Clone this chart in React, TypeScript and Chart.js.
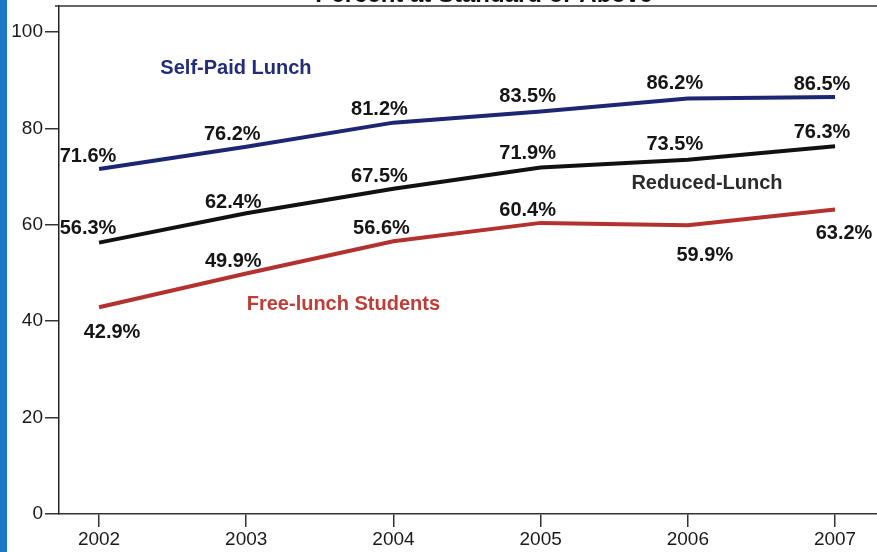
import React, { useEffect, useRef } from "react";
import { Chart, registerables } from "chart.js";

Chart.register(...registerables);

const years = [2002, 2003, 2004, 2005, 2006, 2007];
const selfPaid = [71.6, 76.2, 81.2, 83.5, 86.2, 86.5];
const reduced = [56.3, 62.4, 67.5, 71.9, 73.5, 76.3];
const freeLunch = [42.9, 49.9, 56.6, 60.4, 59.9, 63.2];
const yTicks = [0, 20, 40, 60, 80, 100];
const seriesNames = ["Self-Paid Lunch", "Reduced-Lunch", "Free-lunch Students"];
const titleText = "Percent at Standard or Above";

const FONT = "'Liberation Sans', Arial, Helvetica, sans-serif";

// label offsets (px) relative to each point, per series
const labelOffsets = [
  [[-11, -12], [-14, -12], [-14, -13], [-13, -15], [-13, -15], [-13, -13]],
  [[-11, -14], [-13, -11], [-14, -12], [-13, -14], [-13, -15], [-13, -14]],
  [[13, 25], [-13, -12], [-12, -13], [-13, -12], [17, 30], [9, 24]],
];

const decorPlugin = {
  id: "decor",
  beforeDraw(chart: any) {
    const { ctx, width, height } = chart;
    ctx.save();
    ctx.fillStyle = "#ffffff";
    ctx.fillRect(0, 0, width, height);
    ctx.fillStyle = "#1f78c6";
    ctx.fillRect(0, 0, 7, height);
    ctx.restore();
  },
  afterDraw(chart: any) {
    const { ctx, chartArea, width } = chart;
    ctx.save();
    // top frame line
    ctx.strokeStyle = "#333333";
    ctx.lineWidth = 1.5;
    ctx.beginPath();
    ctx.moveTo(chartArea.left - 4, chartArea.top);
    ctx.lineTo(width, chartArea.top);
    ctx.stroke();
    // clipped title
    ctx.fillStyle = "#111111";
    ctx.font = `bold 24px ${FONT}`;
    ctx.textAlign = "center";
    ctx.textBaseline = "alphabetic";
    ctx.fillText(titleText, 484, 1.5);
    ctx.restore();
  },
};

const labelPlugin = {
  id: "valueLabels",
  afterDatasetsDraw(chart: any) {
    const { ctx } = chart;
    ctx.save();
    ctx.textAlign = "center";
    ctx.textBaseline = "middle";
    chart.data.datasets.forEach((ds: any, di: number) => {
      const meta = chart.getDatasetMeta(di);
      ctx.font = `bold 20px ${FONT}`;
      ctx.fillStyle = "#151515";
      meta.data.forEach((pt: any, i: number) => {
        const [dx, dy] = labelOffsets[di][i];
        ctx.fillText(ds.data[i].y.toFixed(1) + "%", pt.x + dx, pt.y + dy);
      });
    });
    // series name labels
    const xs = chart.scales.x;
    const ys = chart.scales.y;
    ctx.font = `bold 20px ${FONT}`;
    const names = [
      { t: seriesNames[0], x: 2002.93, y: 92.5, c: "#222c7a" },
      { t: seriesNames[1], x: 2006.13, y: 68.6, c: "#2b2b2b" },
      { t: seriesNames[2], x: 2003.66, y: 43.4, c: "#c03c36" },
    ];
    names.forEach((n) => {
      ctx.fillStyle = n.c;
      ctx.fillText(n.t, xs.getPixelForValue(n.x), ys.getPixelForValue(n.y));
    });
    ctx.restore();
  },
};

export default function App() {
  const ref = useRef<HTMLCanvasElement | null>(null);
  useEffect(() => {
    if (!ref.current) return;
    const mk = (arr: number[]) => arr.map((v, i) => ({ x: years[i], y: v }));
    const chart = new Chart(ref.current, {
      type: "line",
      data: {
        datasets: [
          { label: seriesNames[0], data: mk(selfPaid), borderColor: "#1e2572", borderWidth: 4, pointRadius: 0, tension: 0 },
          { label: seriesNames[1], data: mk(reduced), borderColor: "#111111", borderWidth: 4, pointRadius: 0, tension: 0 },
          { label: seriesNames[2], data: mk(freeLunch), borderColor: "#b3322f", borderWidth: 4, pointRadius: 0, tension: 0 },
        ],
      },
      options: {
        responsive: false,
        animation: false,
        layout: { padding: { top: 6, right: 0, left: 0, bottom: 0 } },
        plugins: { legend: { display: false }, title: { display: false }, tooltip: { enabled: false } },
        scales: {
          x: {
            type: "linear",
            min: 2001.728,
            max: 2007.285,
            afterBuildTicks: (s: any) => { s.ticks = years.map((v) => ({ value: v })); },
            afterFit: (s: any) => { s.height = 38; s.paddingLeft = 0; s.paddingRight = 0; },
            grid: { drawOnChartArea: false, drawTicks: true, tickLength: 13, color: "#333333", lineWidth: 1.5 },
            border: { display: true, color: "#333333", width: 1.5 },
            ticks: {
              callback: (v: any) => String(v),
              color: "#1a1a1a",
              font: { family: FONT, size: 19 },
              padding: 1,
              maxRotation: 0,
              autoSkip: false,
            },
          },
          y: {
            type: "linear",
            min: 0,
            max: 105.4,
            afterBuildTicks: (s: any) => { s.ticks = yTicks.map((v) => ({ value: v })); },
            afterFit: (s: any) => { s.width = 59; s.paddingTop = 0; s.paddingBottom = 0; },
            grid: { drawOnChartArea: false, drawTicks: true, tickLength: 14, color: "#333333", lineWidth: 1.5 },
            border: { display: true, color: "#222222", width: 1.5 },
            ticks: {
              color: "#1a1a1a",
              font: { family: FONT, size: 19 },
              padding: 2,
            },
          },
        },
      },
      plugins: [decorPlugin, labelPlugin],
    });
    return () => chart.destroy();
  }, []);
  return (
    <div style={{ position: "fixed", left: 0, top: 0, width: 877, height: 552, background: "#fff" }}>
      <canvas ref={ref} width={877} height={552} style={{ display: "block", width: 877, height: 552 }} />
    </div>
  );
}
